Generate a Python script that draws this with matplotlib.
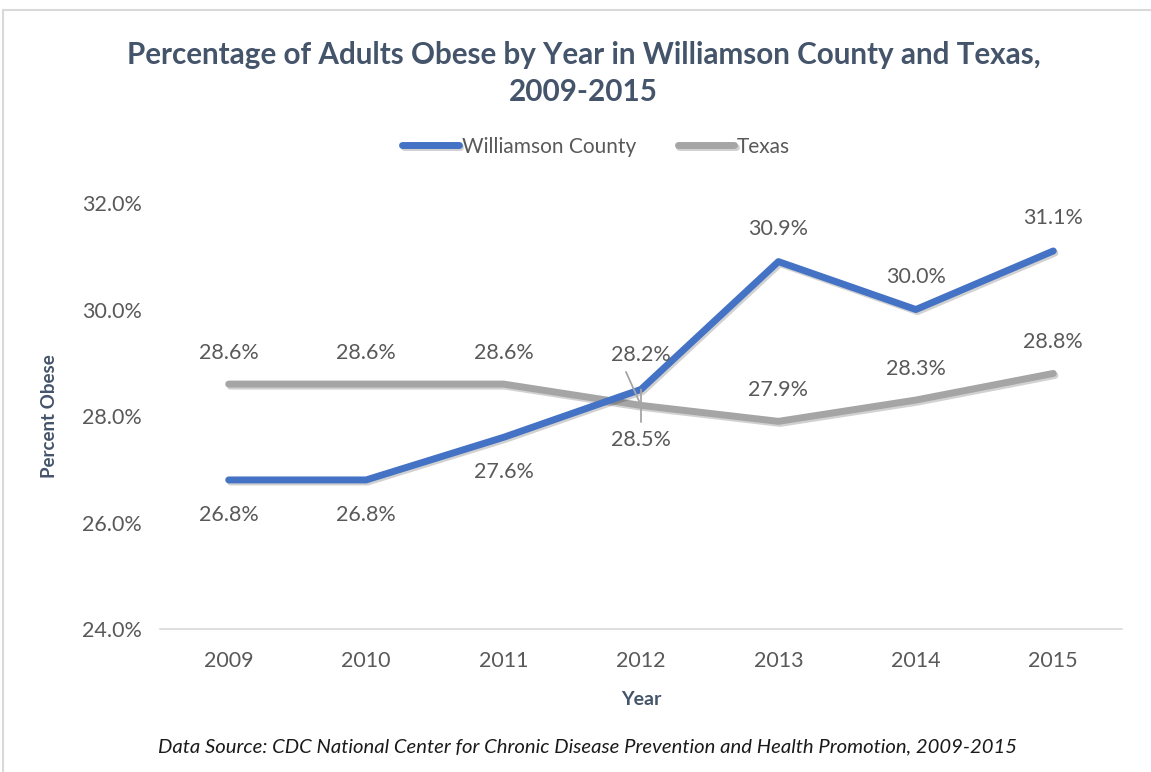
import matplotlib
matplotlib.use('Agg')
import matplotlib.pyplot as plt
import matplotlib.patheffects as pe
from matplotlib.patches import Rectangle

plt.rcParams['font.family'] = ['Lato', 'DejaVu Sans']

anios = ['2009', '2010', '2011', '2012', '2013', '2014', '2015']
williamson = [26.8, 26.8, 27.6, 28.5, 30.9, 30.0, 31.1]
texas = [28.6, 28.6, 28.6, 28.2, 27.9, 28.3, 28.8]
y_ticks = [24, 26, 28, 30, 32]

azul = '#4472C4'
gris = '#A5A5A5'
texto = '#595959'
titulo_col = '#44546A'

fig = plt.figure(figsize=(11.51, 7.72), dpi=100)
ax = fig.add_axes([0.139, 0.1852, 0.8358, 0.5518])

sombra = [pe.SimpleLineShadow(offset=(1.2, -1.5), shadow_color='black', alpha=0.18), pe.Normal()]
x = list(range(len(anios)))
ax.plot(x, williamson, color=azul, linewidth=5, solid_capstyle='round', label='Williamson County',
        zorder=3, path_effects=sombra)
ax.plot(x, texas, color=gris, linewidth=5, solid_capstyle='round', label='Texas',
        zorder=2, path_effects=sombra)

ax.set_xlim(-0.5, len(anios) - 0.5)
ax.set_ylim(24, 32)
ax.set_xticks(x)
ax.set_xticklabels(anios)
ax.set_yticks(y_ticks)
ax.set_yticklabels([f'{v:.1f}%' for v in y_ticks])
ax.tick_params(axis='both', length=0, labelsize=15.5, colors=texto)
ax.tick_params(axis='x', pad=16)
ax.tick_params(axis='y', pad=13)
for s in ['top', 'right', 'left']:
    ax.spines[s].set_visible(False)
ax.spines['bottom'].set_color('#D9D9D9')
ax.spines['bottom'].set_linewidth(1.2)

# etiquetas de datos
for i, v in enumerate(williamson):
    if i == 3:
        continue
    dy = -35 if i < 3 else 33
    ax.annotate(f'{v:.1f}%', (i, v), xytext=(0, dy), textcoords='offset pixels',
                ha='center', va='center', fontsize=15.5, color=texto)
for i, v in enumerate(texas):
    if i == 3:
        continue
    ax.annotate(f'{v:.1f}%', (i, v), xytext=(0, 31), textcoords='offset pixels',
                ha='center', va='center', fontsize=15.5, color=texto)

# 2012 con lineas guia
ax.annotate(f'{texas[3]:.1f}%', (3, texas[3]), xytext=(0, 50), textcoords='offset pixels',
            ha='center', va='center', fontsize=15.5, color=texto,
            arrowprops=dict(arrowstyle='-', color=gris, lw=1.3, relpos=(0.2, 0.0), shrinkA=3, shrinkB=2))
ax.annotate(f'{williamson[3]:.1f}%', (3, williamson[3]), xytext=(0, -51), textcoords='offset pixels',
            ha='center', va='center', fontsize=15.5, color=texto,
            arrowprops=dict(arrowstyle='-', color=gris, lw=1.3, relpos=(0.5, 1.0), shrinkA=4, shrinkB=0))

ax.set_xlabel('Year', fontsize=14, fontweight='bold', color=titulo_col, labelpad=14)
ax.set_ylabel('Percent Obese', fontsize=13.5, fontweight='bold', color=titulo_col, labelpad=17)

fig.text(0.507, 0.905, 'Percentage of Adults Obese by Year in Williamson County and Texas,\n2009-2015',
         ha='center', va='center', fontsize=21.3, fontweight='bold', color=titulo_col, linespacing=1.4)

fig.legend(loc='center', bbox_to_anchor=(0.518, 0.81), ncol=2, frameon=False, fontsize=15,
           handlelength=2.7, handletextpad=0.15, columnspacing=2.0, labelcolor=texto)

fig.text(0.51, 0.032, 'Data Source: CDC National Center for Chronic Disease Prevention and Health Promotion, 2009-2015',
         ha='center', va='center', fontsize=14.6, style='italic', color='#1a1a1a')

fig.patches.append(Rectangle((3 / 1151, -0.05), 1.2, 1 - 10 / 772 + 0.05, transform=fig.transFigure,
                             fill=False, edgecolor='#D9D9D9', linewidth=1.5))

plt.savefig('out.png', dpi=100)
plt.close()
